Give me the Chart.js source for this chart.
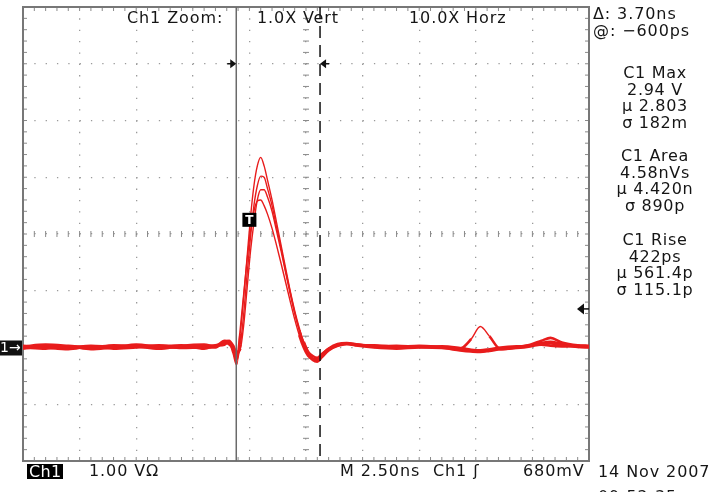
<!DOCTYPE html>
<html>
<head>
<meta charset="utf-8">
<script src="https://cdn.jsdelivr.net/npm/chart.js@4"></script>
<style>
html, body { margin: 0; padding: 0; background: #fff; }
#wrap { position: relative; width: 711px; height: 492px; overflow: hidden; }
#scope { position: absolute; left: 0; top: 0; }
.t { position: absolute; font-family: "DejaVu Sans"; font-size: 16px; letter-spacing: 0.9px; color: #151515; white-space: nowrap; line-height: 18px; }
.blk { position: absolute; left: 594px; width: 122px; text-align: center; font-family: "DejaVu Sans"; font-size: 16px; letter-spacing: 0.7px; color: #151515; line-height: 16.7px; }
.inv { background: #000; color: #fff; padding: 0 2px; line-height: 15px; letter-spacing: 0.3px; }
</style>
</head>
<body>
<div id="wrap">
  <canvas id="scope" width="711" height="492"></canvas>

  <div class="t" style="left:127px; top:9px;">Ch1 Zoom:</div>
  <div class="t" style="left:257px; top:9px;">1.0X Vert</div>
  <div class="t" style="left:409px; top:9px;">10.0X Horz</div>

  <div class="t" style="left:593px; top:5px;">Δ: 3.70ns</div>
  <div class="t" style="left:593px; top:22px;">@: −600ps</div>

  <div class="blk" style="top:65px;">C1 Max<br>2.94 V<br>µ 2.803<br>σ 182m</div>
  <div class="blk" style="top:148px;">C1 Area<br>4.58nVs<br>µ 4.420n<br>σ 890p</div>
  <div class="blk" style="top:232px;">C1 Rise<br>422ps<br>µ 561.4p<br>σ 115.1p</div>

  <div class="t inv" style="left:27px; top:464px;">Ch1</div>
  <div class="t" style="left:89px; top:462px;">1.00 VΩ</div>
  <div class="t" style="left:340px; top:462px;">M 2.50ns</div>
  <div class="t" style="left:433px; top:462px;">Ch1 ʃ</div>
  <div class="t" style="left:523px; top:462px;">680mV</div>
  <div class="t" style="left:598px; top:463px;">14 Nov 2007</div>
  <div class="t" style="left:598px; top:488px;">09:52:35</div>
</div>

<script>
// time (ns, relative to screen centre) and volts per acquisition
const timeNs = [-12.5, -11.5, -10.5, -9.5, -8.5, -7.5, -6.5, -5.5, -4.5, -4.0,
  -3.6, -3.4, -3.2, -3.05, -2.9, -2.75, -2.6, -2.45, -2.3, -2.15, -2.0, -1.85, -1.7, -1.5,
  -1.3, -1.1, -0.9, -0.7, -0.5, -0.3, -0.1, 0.1, 0.3, 0.5, 0.7, 1.0, 1.4, 1.8, 2.3,
  3.0, 4.0, 5.0, 6.0, 6.8, 7.3, 7.7, 8.1, 8.6, 9.3, 9.9, 10.4, 10.8, 11.3, 12.0, 12.5];

const traceA = [0.02, 0.05, 0.03, 0.0, 0.04, 0.02, -0.02, 0.03, 0.05, 0.02,
  0.12, 0.1, -0.05, -0.2, 0.25, 0.9, 1.6, 2.3, 2.85, 3.2, 3.35, 3.2, 2.95, 2.6,
  2.2, 1.8, 1.4, 1.0, 0.65, 0.35, 0.1, -0.08, -0.15, -0.18, -0.12, -0.02, 0.06, 0.08, 0.05,
  0.03, 0.0, 0.02, 0.01, -0.02, 0.15, 0.37, 0.2, -0.03, 0.0, 0.04, 0.05, 0.03, 0.02, 0.03, 0.02];

const traceB = [-0.02, 0.02, 0.0, 0.03, 0.01, 0.05, 0.01, 0.0, 0.02, 0.04,
  0.08, 0.12, 0.02, -0.12, 0.05, 0.6, 1.3, 1.95, 2.5, 2.85, 3.02, 3.0, 2.8, 2.5,
  2.12, 1.75, 1.35, 0.98, 0.62, 0.32, 0.08, -0.1, -0.2, -0.22, -0.15, -0.04, 0.04, 0.07, 0.04,
  0.04, 0.01, 0.03, 0.0, -0.03, -0.06, -0.07, -0.05, -0.02, 0.01, 0.05, 0.12, 0.17, 0.09, 0.04, 0.03];

const traceC = [0.0, -0.02, 0.02, -0.03, 0.0, 0.02, 0.04, -0.01, 0.0, 0.0,
  0.1, 0.06, -0.02, -0.08, -0.02, 0.4, 1.05, 1.7, 2.2, 2.6, 2.78, 2.78, 2.65, 2.4,
  2.05, 1.7, 1.32, 0.95, 0.6, 0.3, 0.05, -0.12, -0.22, -0.25, -0.17, -0.05, 0.03, 0.06, 0.03,
  0.0, -0.02, 0.0, -0.01, -0.05, -0.07, -0.08, -0.06, -0.03, -0.01, 0.02, 0.06, 0.07, 0.04, 0.01, 0.0];

const traceD = [0.03, 0.0, -0.03, 0.02, -0.02, 0.0, 0.02, 0.04, -0.02, 0.03,
  0.05, 0.1, -0.1, -0.3, 0.35, 0.95, 1.55, 2.05, 2.4, 2.58, 2.6, 2.5, 2.35, 2.1,
  1.8, 1.48, 1.15, 0.82, 0.5, 0.22, 0.0, -0.15, -0.2, -0.2, -0.12, -0.03, 0.05, 0.07, 0.05,
  0.02, 0.03, 0.01, 0.02, -0.01, -0.04, -0.05, -0.03, 0.0, 0.02, 0.03, 0.08, 0.1, 0.06, 0.02, 0.01];

// cursor / marker settings (ns and V)
const cursorA = -3.08;
const cursorB = 0.62;
const trigLevel = 0.68;
const trigTime = -2.5;

const traceColor = '#e81c1c';

function toPoints(vals) {
  return timeNs.map((t, i) => ({ x: t, y: vals[i] }));
}

function line(ctx, x1, y1, x2, y2) {
  ctx.beginPath();
  ctx.moveTo(x1, y1);
  ctx.lineTo(x2, y2);
  ctx.stroke();
}

// minor ticks on centre cross and edges, plus the frame
const graticule = {
  id: 'graticule',
  beforeDatasetsDraw(chart) {
    const { ctx, chartArea: a, scales: { x, y } } = chart;
    const cx = x.getPixelForValue(0);
    const cy = y.getPixelForValue(2);
    ctx.save();
    ctx.strokeStyle = '#8a8a8a';
    ctx.lineWidth = 1;
    for (let k = 0; k <= 50; k++) {
      const px = x.getPixelForValue(-12.5 + k * 0.5);
      line(ctx, px, cy - 3, px, cy + 3);
      line(ctx, px, a.top, px, a.top + 4);
      line(ctx, px, a.bottom, px, a.bottom - 4);
    }
    for (let k = 0; k <= 40; k++) {
      const py = y.getPixelForValue(-2 + k * 0.2);
      line(ctx, cx - 3, py, cx + 3, py);
      line(ctx, a.left, py, a.left + 4, py);
      line(ctx, a.right, py, a.right - 4, py);
    }
    ctx.strokeStyle = '#777';
    ctx.lineWidth = 2;
    ctx.strokeRect(a.left, a.top, a.right - a.left, a.bottom - a.top);
    ctx.restore();
  }
};

// cursors, trigger and ground markers
const markers = {
  id: 'markers',
  afterDatasetsDraw(chart) {
    const { ctx, chartArea: a, scales: { x, y } } = chart;
    const xa = x.getPixelForValue(cursorA);
    const xb = x.getPixelForValue(cursorB);
    const yr = y.getPixelForValue(5);
    ctx.save();
    ctx.strokeStyle = '#6a6a6a';
    ctx.lineWidth = 1.5;
    line(ctx, xa, a.top, xa, a.bottom);
    ctx.strokeStyle = '#111';
    ctx.setLineDash([12, 7]);
    line(ctx, xb, a.top, xb, a.bottom);
    ctx.setLineDash([]);

    ctx.fillStyle = '#111';
    ctx.strokeStyle = '#111';
    ctx.lineWidth = 1.5;
    // range arrows
    line(ctx, xa - 9, yr, xa - 3, yr);
    ctx.beginPath(); ctx.moveTo(xa, yr); ctx.lineTo(xa - 6, yr - 4.5); ctx.lineTo(xa - 6, yr + 4.5); ctx.fill();
    line(ctx, xb + 3, yr, xb + 9, yr);
    ctx.beginPath(); ctx.moveTo(xb, yr); ctx.lineTo(xb + 6, yr - 4.5); ctx.lineTo(xb + 6, yr + 4.5); ctx.fill();

    // trigger level arrow
    const yt = y.getPixelForValue(trigLevel);
    line(ctx, a.right - 5, yt, a.right, yt);
    ctx.beginPath(); ctx.moveTo(a.right - 12, yt); ctx.lineTo(a.right - 5, yt - 5.5); ctx.lineTo(a.right - 5, yt + 5.5); ctx.fill();

    // ground marker
    const yg = y.getPixelForValue(0);
    ctx.fillRect(0, yg - 7, a.left - 1, 15);
    ctx.fillStyle = '#fff';
    ctx.font = '14px "DejaVu Sans"';
    ctx.textBaseline = 'middle';
    ctx.fillText('1→', 0, yg + 1);

    // trigger position marker
    const tx = x.getPixelForValue(trigTime);
    const ty = y.getPixelForValue(2.25);
    ctx.fillStyle = '#000';
    ctx.fillRect(tx - 7, ty - 7, 14, 14);
    ctx.fillStyle = '#fff';
    ctx.font = 'bold 12px "DejaVu Sans"';
    ctx.textAlign = 'center';
    ctx.fillText('T', tx, ty + 1);
    ctx.restore();
  }
};

const traces = [traceA, traceB, traceC, traceD];

// thick band on the flat baseline, thinner strokes on the steep pulse
const segWidth = (ctx) => {
  const y0 = ctx.p0.parsed.y;
  const y1 = ctx.p1.parsed.y;
  return (Math.abs(y0) > 0.3 || Math.abs(y1) > 0.3) ? 1.4 : 2.6;
};

const data = {
  datasets: traces.map((vals, i) => ({
    label: 'acq ' + (i + 1),
    data: toPoints(vals),
    borderColor: traceColor,
    borderWidth: 2.2,
    pointRadius: 0,
    cubicInterpolationMode: 'monotone',
    segment: { borderWidth: segWidth }
  }))
};

const options = {
  responsive: false,
  animation: false,
  layout: { padding: { left: 23, right: 122, top: 7, bottom: 31 } },
  plugins: {
    legend: { display: false },
    tooltip: { enabled: false }
  },
  scales: {
    x: {
      type: 'linear',
      min: -12.5,
      max: 12.5,
      ticks: { display: false, stepSize: 2.5 },
      grid: { color: '#9a9a9a', lineWidth: 1.3, drawTicks: false },
      border: { display: false, dash: [1.3, 10.05] }
    },
    y: {
      min: -2,
      max: 6,
      ticks: { display: false, stepSize: 1 },
      grid: { color: '#9a9a9a', lineWidth: 1.3, drawTicks: false },
      border: { display: false, dash: [1.3, 10.02] }
    }
  }
};

const config = {
  type: 'line',
  data,
  options,
  plugins: [graticule, markers]
};

const myChart = new Chart(document.getElementById('scope'), config);
</script>
</body>
</html>
